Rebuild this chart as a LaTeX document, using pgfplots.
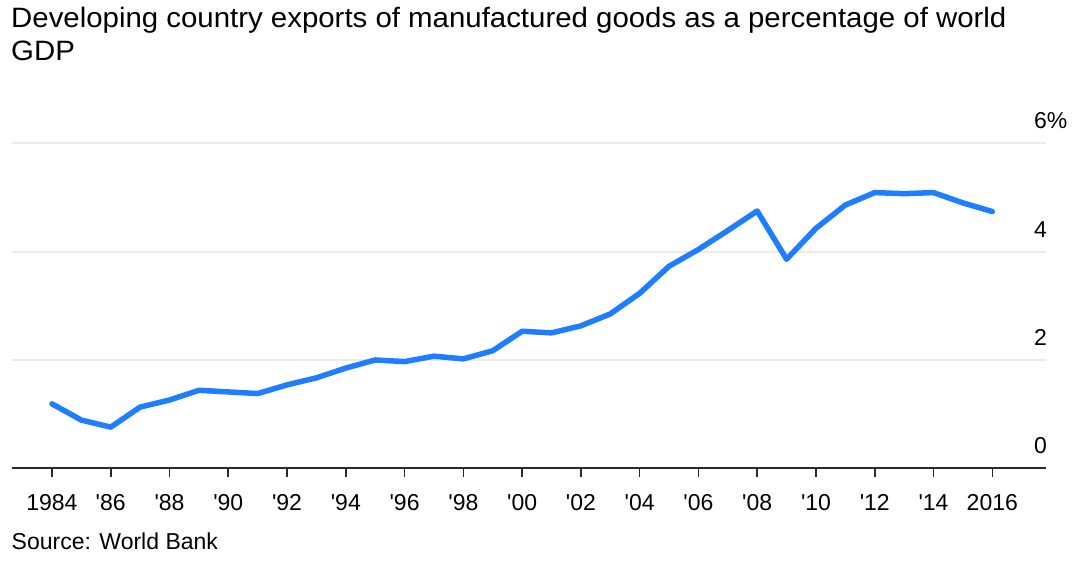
\documentclass[border=0pt]{standalone}
\usepackage{fontspec}
\setmainfont{Liberation Sans}
\usepackage{pgfplots}
\pgfplotsset{compat=1.18}
\definecolor{lineblue}{HTML}{1F7EFF}
\definecolor{gridgray}{HTML}{EBEBEB}
\definecolor{basegray}{HTML}{2A2A2A}
\begin{document}
\begin{tikzpicture}[x=1pt,y=1pt]
\path[use as bounding box] (0,0) rectangle (1075,564);
\node[anchor=base west, inner sep=0pt, font=\fontsize{28}{32}\selectfont] at (11,536.7) {\scalebox{1.05}[1]{Developing country exports of manufactured goods as a percentage of world}};
\node[anchor=base west, inner sep=0pt, font=\fontsize{28}{32}\selectfont] at (11,503.3) {\scalebox{1.05}[1]{GDP}};
\node[anchor=base west, inner sep=0pt, font=\fontsize{23}{27}\selectfont] at (11.5,14) {Source: World Bank};
\begin{axis}[
  at={(12pt,95.7pt)}, anchor=south west,
  scale only axis, width=1034pt, height=325pt,
  xmin=1982.64, xmax=2017.83, ymin=0, ymax=6,
  clip=false,
  axis line style={draw=none},
  major tick length=9pt,
  xtick={1984,1986,...,2016},
  xticklabels={1984,\textquotesingle86,\textquotesingle88,\textquotesingle90,\textquotesingle92,\textquotesingle94,\textquotesingle96,\textquotesingle98,\textquotesingle00,\textquotesingle02,\textquotesingle04,\textquotesingle06,\textquotesingle08,\textquotesingle10,\textquotesingle12,\textquotesingle14,2016},
  xtick pos=bottom, tick align=outside,
  x tick style={basegray, line width=1.6pt},
  xticklabel style={anchor=north, inner sep=0pt, font=\fontsize{23}{27}\selectfont, yshift=-17pt},
  ytick={0,2,4,6},
  yticklabels={0,2,4,6\rlap{\%}},
  yticklabel pos=right,
  y tick style={draw=none},
  yticklabel style={anchor=base east, inner sep=0pt, xshift=-8pt, yshift=14.5pt, font=\fontsize{23}{27}\selectfont},
  ymajorgrids, grid style={gridgray, line width=2.2pt},
]
\draw[basegray, line width=2pt] (rel axis cs:0,0) -- (rel axis cs:1,0);
\addplot[lineblue, line width=5.5pt, line join=round, line cap=round] coordinates {
(1984,1.19) (1985,0.89) (1986,0.76) (1987,1.13) (1988,1.26) (1989,1.44)
(1990,1.41) (1991,1.38) (1992,1.54) (1993,1.67) (1994,1.85) (1995,2.00)
(1996,1.97) (1997,2.07) (1998,2.02) (1999,2.17) (2000,2.53) (2001,2.50)
(2002,2.63) (2003,2.85) (2004,3.23) (2005,3.73) (2006,4.04) (2007,4.39)
(2008,4.75) (2009,3.86) (2010,4.43) (2011,4.86) (2012,5.09) (2013,5.07)
(2014,5.09) (2015,4.90) (2016,4.74)
};
\end{axis}
\end{tikzpicture}
\end{document}
